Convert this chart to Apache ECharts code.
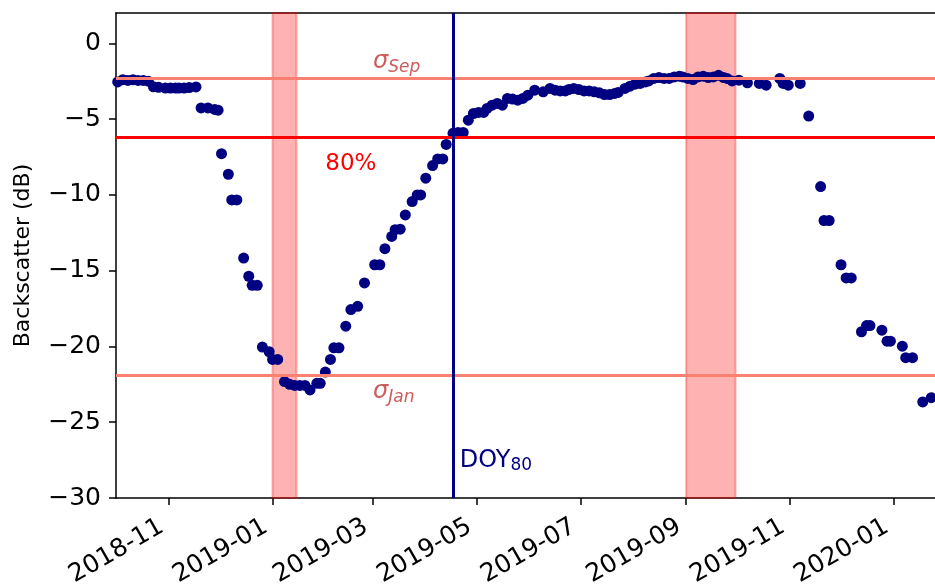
<!DOCTYPE html>
<html><head><meta charset="utf-8">
<script src="https://cdn.jsdelivr.net/npm/echarts@6/dist/echarts.min.js"></script>
<style>html,body{margin:0;padding:0;background:#fff}#c{width:935px;height:586px}</style>
</head><body><div id="c"></div>
<script>
const dates = [
 '2018-10-02','2018-10-05','2018-10-08','2018-10-11','2018-10-14','2018-10-17','2018-10-20',
 '2018-10-23','2018-10-26','2018-10-30','2018-11-02','2018-11-05','2018-11-07','2018-11-10','2018-11-13','2018-11-17',
 '2018-11-20','2018-11-24','2018-11-28','2018-11-30',
 '2018-12-02','2018-12-06','2018-12-08','2018-12-11','2018-12-15','2018-12-18','2018-12-20','2018-12-23','2018-12-26','2018-12-30',
 '2019-01-01','2019-01-04','2019-01-08','2019-01-11','2019-01-14','2019-01-17','2019-01-20','2019-01-23','2019-01-27','2019-01-29',
 '2019-02-01','2019-02-04','2019-02-06','2019-02-09','2019-02-13','2019-02-16','2019-02-20','2019-02-24',
 '2019-03-02','2019-03-05','2019-03-08','2019-03-12','2019-03-14','2019-03-17','2019-03-20','2019-03-24','2019-03-27','2019-03-29',
 '2019-04-01','2019-04-05','2019-04-08','2019-04-11','2019-04-13','2019-04-17','2019-04-20','2019-04-23','2019-04-26','2019-04-29',
 '2019-05-02','2019-05-05','2019-05-07','2019-05-10','2019-05-13','2019-05-16','2019-05-19','2019-05-22','2019-05-25','2019-05-28','2019-05-31',
 '2019-06-04','2019-06-09','2019-06-13','2019-06-16','2019-06-19','2019-06-22','2019-06-24','2019-06-27','2019-06-30',
 '2019-07-03','2019-07-06','2019-07-09','2019-07-12','2019-07-15','2019-07-18','2019-07-21','2019-07-23','2019-07-27','2019-07-30',
 '2019-08-02','2019-08-05','2019-08-08','2019-08-10','2019-08-13','2019-08-16','2019-08-19','2019-08-22','2019-08-25','2019-08-28','2019-08-30',
 '2019-09-02','2019-09-05','2019-09-08','2019-09-11','2019-09-14','2019-09-17','2019-09-20','2019-09-23','2019-09-25','2019-09-28',
 '2019-10-02','2019-10-07','2019-10-14','2019-10-18','2019-10-26','2019-10-28','2019-10-31',
 '2019-11-07','2019-11-12','2019-11-19','2019-11-21','2019-11-24',
 '2019-12-01','2019-12-04','2019-12-07','2019-12-13','2019-12-16','2019-12-18','2019-12-25','2019-12-28','2019-12-30',
 '2020-01-06','2020-01-08','2020-01-12','2020-01-18','2020-01-23','2020-01-26'
];
const backscatter = [
 -2.55,-2.4,-2.45,-2.4,-2.45,-2.45,-2.5,
 -2.87,-2.9,-2.95,-2.95,-2.95,-2.95,-2.95,-2.92,-2.88,
 -4.26,-4.26,-4.36,-4.41,
 -7.28,-8.64,-10.33,-10.33,-14.17,-15.37,-15.97,-15.97,-20.04,-20.35,
 -20.86,-20.86,-22.32,-22.5,-22.57,-22.57,-22.57,-22.87,-22.43,-22.43,
 -21.69,-20.86,-20.09,-20.09,-18.66,-17.57,-17.35,-15.81,
 -14.61,-14.61,-13.55,-12.74,-12.3,-12.26,-11.32,-10.44,-10.0,-10.0,
 -8.9,-8.07,-7.63,-7.63,-6.67,-5.94,-5.88,-5.88,-5.07,-4.63,
 -4.56,-4.56,-4.3,-4.08,-3.97,-4.08,-3.64,-3.68,-3.75,-3.64,-3.42,
 -3.09,-3.2,-2.98,-3.09,-3.14,-3.14,-3.05,-2.98,-3.05,
 -3.14,-3.14,-3.2,-3.27,-3.38,-3.38,-3.31,-3.24,-2.98,-2.83,
 -2.7,-2.65,-2.55,-2.48,-2.32,-2.26,-2.32,-2.32,-2.22,-2.17,-2.22,
 -2.32,-2.39,-2.22,-2.17,-2.26,-2.22,-2.11,-2.26,-2.32,-2.48,
 -2.43,-2.61,-2.65,-2.76,-2.32,-2.65,-2.76,
 -2.65,-4.8,-9.45,-11.69,-11.69,
 -14.61,-15.48,-15.48,-19.03,-18.62,-18.62,-18.93,-19.65,-19.65,
 -19.98,-20.74,-20.74,-23.66,-23.38,-23.8
];
const xTickLabels = ['2018-11','2019-01','2019-03','2019-05','2019-07','2019-09','2019-11','2020-01'];
const yTicks = [-30,-25,-20,-15,-10,-5,0];
const sigmaSep = -2.32;
const sigmaJan = -21.89;
const level80 = -6.23;
const doy80Date = '2019-04-17';
const spanJan = ['2019-01-01','2019-01-15'];
const spanSep = ['2019-09-01','2019-09-30'];

const FONT = 'DejaVu Sans';
const t = s => Date.parse(s + 'T00:00:00Z');
const xMin = t('2018-10-01');
const xMax = xMin + 481.2 * 86400000;
const xTickValues = xTickLabels.map(s => t(s + '-01'));
const pts = dates.map((d, i) => [t(d), backscatter[i]]);
const fmtMonth = v => { const d = new Date(v); return d.getUTCFullYear() + '-' + String(d.getUTCMonth() + 1).padStart(2, '0'); };

const chart = echarts.init(document.getElementById('c'), null, {renderer: 'canvas'});
chart.setOption({
  animation: false,
  backgroundColor: '#fff',
  grid: {left: 116, right: 0, top: 13, bottom: 88, containLabel: false, outerBoundsMode: 'none'},
  xAxis: [{
    type: 'value', min: xMin, max: xMax,
    axisLine: {show: true, onZero: false, lineStyle: {color: '#000', width: 1.5}},
    axisTick: {show: true, customValues: xTickValues, length: 7, lineStyle: {color: '#000', width: 1.5}},
    axisLabel: {show: true, customValues: xTickValues, rotate: 30, margin: 23,
      fontFamily: FONT, fontSize: 25, color: '#000', padding: [0, 8, 0, 0],
      formatter: fmtMonth},
    splitLine: {show: false}
  }, {
    type: 'value', min: xMin, max: xMax, position: 'top',
    axisLine: {show: true, onZero: false, lineStyle: {color: '#000', width: 1.5}},
    axisTick: {show: false}, axisLabel: {show: false}, splitLine: {show: false}
  }],
  yAxis: {
    type: 'value', min: -30, max: 2,
    name: 'Backscatter (dB)', nameLocation: 'middle', nameGap: 82,
    nameTextStyle: {fontFamily: FONT, fontSize: 22, color: '#000'},
    axisLine: {show: true, onZero: false, lineStyle: {color: '#000', width: 1.5}},
    axisTick: {show: true, customValues: yTicks, length: 7, lineStyle: {color: '#000', width: 1.5}},
    axisLabel: {show: true, customValues: yTicks, margin: 15, fontFamily: FONT, fontSize: 25, color: '#000',
      formatter: v => (v < 0 ? '\u2212' + Math.abs(v) : String(v))},
    splitLine: {show: false}
  },
  series: [
    {
      type: 'line', data: [], z: 1, silent: true,
      markLine: {
        silent: true, symbol: 'none', label: {show: false}, animation: false,
        data: [
          {yAxis: sigmaSep, lineStyle: {color: '#fa8072', width: 3, type: 'solid'}},
          {yAxis: sigmaJan, lineStyle: {color: '#fa8072', width: 3, type: 'solid'}},
          {yAxis: level80, lineStyle: {color: '#ff0000', width: 3, type: 'solid'}}
        ]
      }
    },
    {
      type: 'line', data: [], z: 2, silent: true,
      markArea: {
        silent: true,
        itemStyle: {color: 'rgba(255,0,0,0.3)', borderColor: 'rgba(255,0,0,0.3)', borderWidth: 2},
        data: [
          [{xAxis: t(spanJan[0])}, {xAxis: t(spanJan[1])}],
          [{xAxis: t(spanSep[0])}, {xAxis: t(spanSep[1])}]
        ]
      }
    },
    {
      type: 'line', data: [], z: 3, silent: true,
      markLine: {
        silent: true, symbol: 'none', label: {show: false},
        data: [{xAxis: t(doy80Date), lineStyle: {color: '#000080', width: 3, type: 'solid'}}]
      }
    },
    {
      type: 'scatter', data: pts, z: 4, symbol: 'circle', symbolSize: 11,
      itemStyle: {color: '#000080', opacity: 1}, silent: true,
      markPoint: {
        silent: true, symbol: 'circle', symbolSize: 0,
        label: {show: true, position: 'inside', align: 'left', verticalAlign: 'middle', fontFamily: FONT},
        data: [
          {coord: [t('2019-03-01'), -1.2], value: 0,
           label: {formatter: '{a|σ}{b|Sep}', rich: {
             a: {fontFamily: FONT, fontStyle: 'italic', fontSize: 24, color: '#cd5c5c'},
             b: {fontFamily: FONT, fontStyle: 'italic', fontSize: 17, color: '#cd5c5c', padding: [12, 0, 0, 0]}}}},
          {coord: [t('2019-03-01'), -23.0], value: 0,
           label: {formatter: '{a|σ}{b|Jan}', rich: {
             a: {fontFamily: FONT, fontStyle: 'italic', fontSize: 24, color: '#cd5c5c'},
             b: {fontFamily: FONT, fontStyle: 'italic', fontSize: 17, color: '#cd5c5c', padding: [12, 0, 0, 0]}}}},
          {coord: [t('2019-02-01'), -7.95], value: 0,
           label: {formatter: '80%', fontFamily: FONT, fontSize: 23, color: '#ff0000'}},
          {coord: [t('2019-04-21'), -27.55], value: 0,
           label: {formatter: '{a|DOY}{b|80}', rich: {
             a: {fontFamily: FONT, fontSize: 24, color: '#000080'},
             b: {fontFamily: FONT, fontSize: 17, color: '#000080', padding: [10, 0, 0, 0]}}}}
        ]
      }
    }
  ]
});
</script></body></html>
